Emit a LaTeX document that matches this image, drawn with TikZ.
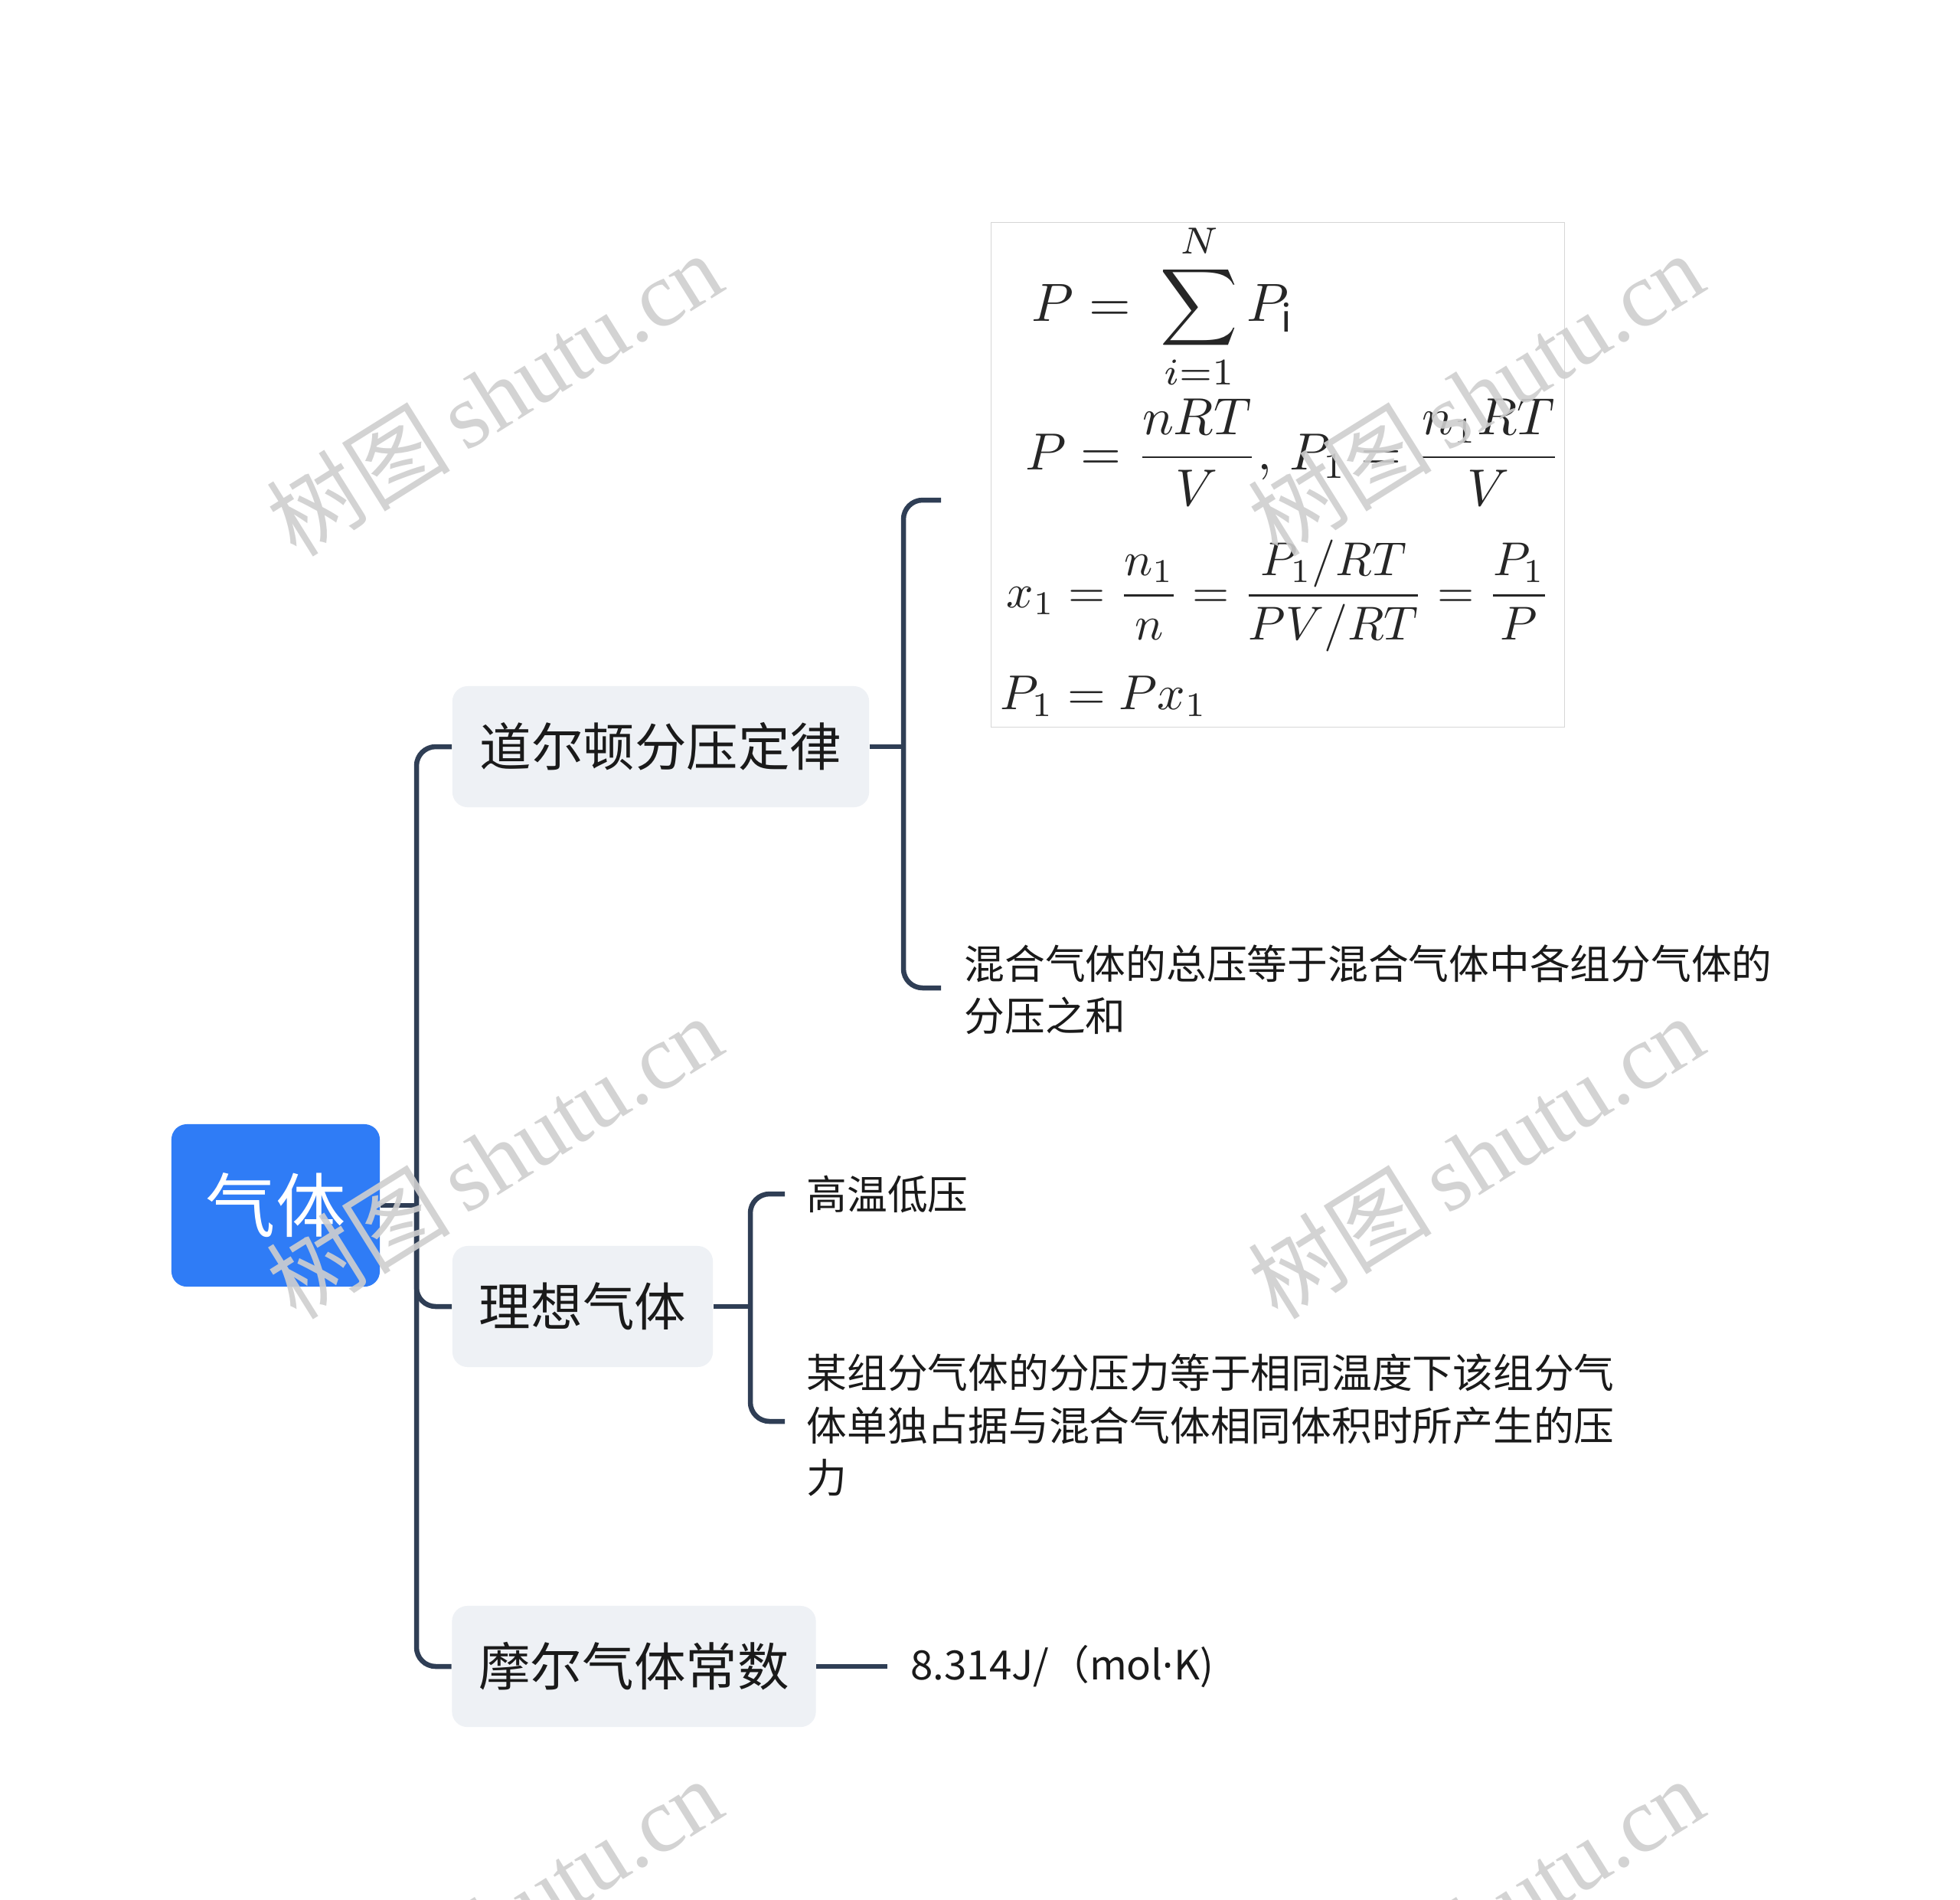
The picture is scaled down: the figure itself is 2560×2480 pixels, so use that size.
\documentclass[tikz,border=0pt]{standalone}
\usepackage{fontspec}
\usepackage{graphicx}
\setmainfont{Noto Sans CJK SC}
\newfontfamily\cjkfont{Noto Sans CJK SC}
\newfontfamily\wmlatin{Liberation Serif}
\newfontfamily\dotfont{Noto Sans}
\definecolor{rootc}{HTML}{2F7CF6}
\definecolor{topicc}{HTML}{EEF1F5}
\definecolor{connc}{HTML}{2F3E55}
\definecolor{textc}{HTML}{1A1A1A}
\definecolor{wmc}{HTML}{CFCFCF}
\definecolor{framec}{HTML}{D6D6D6}
\begin{document}
\begin{tikzpicture}[x=0.01cm,y=-0.01cm,
  conn/.style={draw=connc, line width=0.065cm, rounded corners=0.25cm},
  rootbox/.style={rectangle, rounded corners=0.2cm, fill=rootc, text=white,
    font=\fontsize{26pt}{30pt}\selectfont, minimum width=2.72cm, minimum height=2.12cm, inner sep=0pt},
  topic/.style={rectangle, rounded corners=0.2cm, fill=topicc, text=textc,
    font=\fontsize{19.2pt}{23pt}\selectfont, minimum height=1.58cm, inner sep=0pt},
  leaf/.style={text=textc, font=\fontsize{15pt}{19.4pt}\selectfont, align=left, inner sep=0pt, anchor=west},
  formulabox/.style={rectangle, draw=framec, line width=0.4pt, fill=white, minimum width=7.49cm, minimum height=6.59cm, inner sep=0pt},
  fml/.style={inner sep=0pt, anchor=west, text=black!85},
  wm/.style={text=wmc, opacity=0.9, rotate=32, inner sep=0pt}
]
\useasboundingbox (0,0) rectangle (2560,2480);
\clip (0,0) rectangle (2560,2480);
\fill[white] (0,0) rectangle (2560,2480);

% root and topics
\node[rootbox] (root) at (360,1574) {气体};
\node[topic, minimum width=5.44cm] (dalton) at (863,975) {道尔顿分压定律};
\node[topic, minimum width=3.40cm] (ideal) at (761,1706) {理想气体};
\node[topic, minimum width=4.75cm] (molar) at (828,2176) {摩尔气体常数};

% formula picture
\node[formulabox] (formula) at (1669,620) {};
\node[fml] (f1) at (1347,400) {\resizebox{3.43cm}{!}{$\displaystyle P=\;\sum_{i=1}^{N} P_{\mathrm{i}}$}};
\node[fml] (f2) at (1339,591) {\resizebox{6.99cm}{!}{$\displaystyle P=\frac{nRT}{V},\,P_1=\frac{n_1RT}{V}$}};
\node[fml] (f3) at (1314,778) {\resizebox{7.10cm}{!}{$\displaystyle x_1=\frac{n_1}{n}=\frac{P_1/RT}{PV/RT}=\frac{P_1}{P}$}};
\node[fml] (f4) at (1306,909) {\resizebox{2.70cm}{!}{$P_1=Px_1$}};

% leaves
\node[leaf] (sumtext) at (1259,1292) {混合气体的总压等于混合气体中各组分气体的\\分压之和};
\node[leaf] (hot) at (1053,1559) {高温低压};
\node[leaf] (partial) at (1053,1861) {某组分气体的分压力等于相同温度下该组分气\\体单独占据与混合气体相同体积时所产生的压\\力};
\node[leaf] (rconst) at (1189,2176) {8.314J/（mol{\dotfont ·}K)};

% connector points
\coordinate (trunkT) at (544,975);
\coordinate (trunkR) at (544,1574);
\coordinate (trunkI) at (544,1706);
\coordinate (trunkB) at (544,2176);
\coordinate (dj) at (1180,975);
\coordinate (dTop) at (1180,653);
\coordinate (dBot) at (1180,1290);
\coordinate (dTopEnd) at (1229,653);
\coordinate (dBotEnd) at (1229,1290);
\coordinate (ij) at (980,1706);
\coordinate (iTop) at (980,1559);
\coordinate (iBot) at (980,1856);
\coordinate (iTopEnd) at (1025,1559);
\coordinate (iBotEnd) at (1025,1856);
\coordinate (mEnd) at (1159,2176);

% connectors
\draw[conn] (root.east) -- (trunkR);
\draw[conn] (dalton.west) -- (trunkT) -- (trunkB) -- (molar.west);
\draw[conn] (trunkR) -- (trunkI) -- (ideal.west);
\draw[conn] (dalton.east) -- (dj);
\draw[conn] (dTopEnd) -- (dTop) -- (dBot) -- (dBotEnd);
\draw[conn] (ideal.east) -- (ij);
\draw[conn] (iTopEnd) -- (iTop) -- (iBot) -- (iBotEnd);
\draw[conn] (molar.east) -- (mEnd);

% watermarks
\foreach \wx/\wy [count=\k] in {645/514, 1927/514, 645/1510, 1927/1510, 645/2506, 1927/2506}{
  \node[wm] (wm\k) at (\wx,\wy) {\resizebox{6.65cm}{!}{\cjkfont 树图\,\wmlatin shutu.cn}};
}
\end{tikzpicture}
\end{document}
